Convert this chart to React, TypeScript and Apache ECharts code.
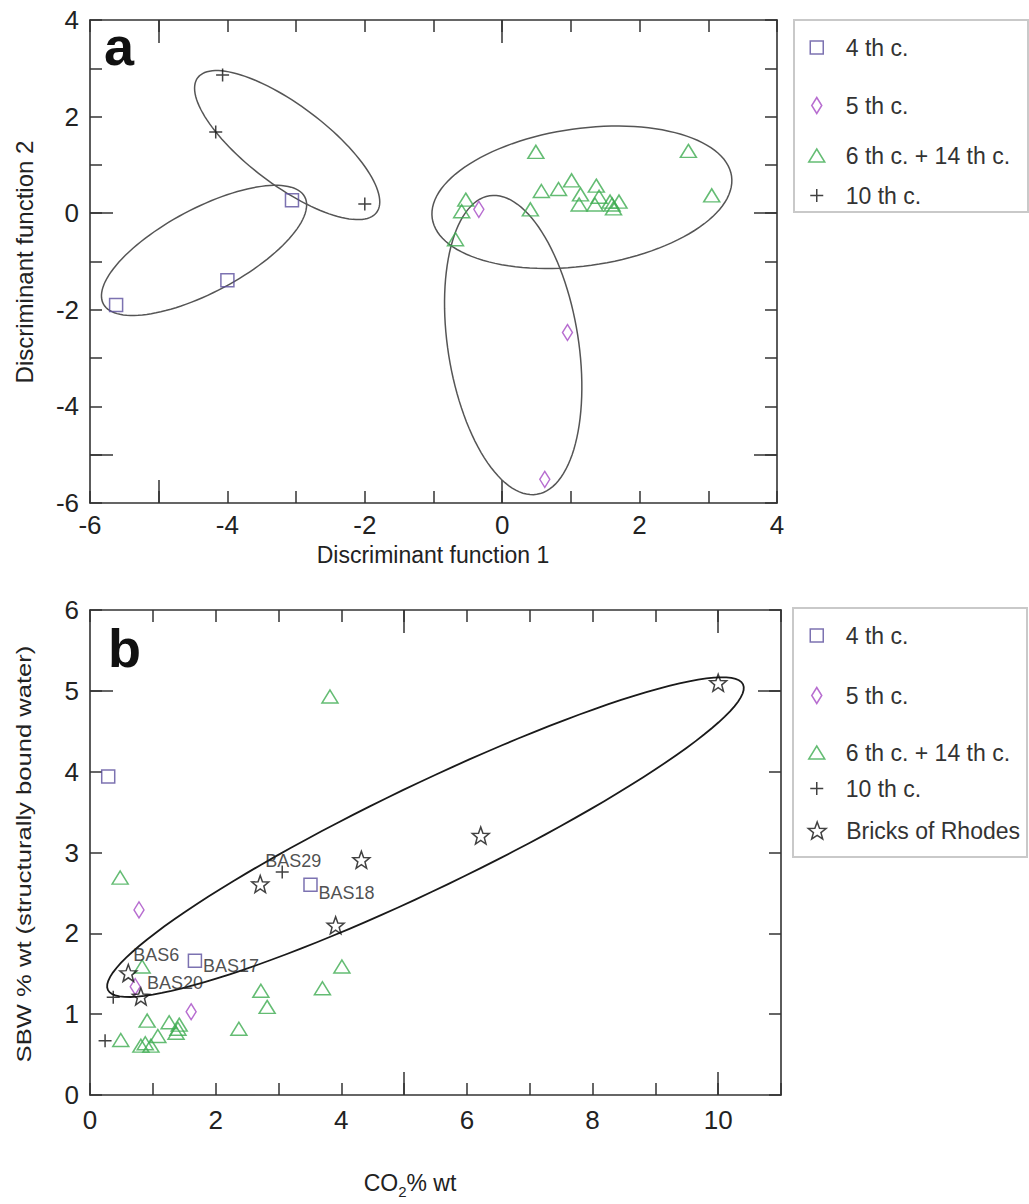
import React, { useEffect, useRef } from 'react';
import * as echarts from 'echarts';

const FONT = "'Liberation Sans', Arial, Helvetica, sans-serif";

// ---------------- Panel a data (Discriminant functions) ----------------
const aXLabelValues = [-6, -4, -2, 0, 2, 4];
const aYLabelValues = [-6, -4, -2, 0, 2, 4];
const aLongTicks = [-5, 0];

const a4thX = [-5.62, -4.0, -3.06];
const a4thY = [-1.9, -1.39, 0.27];
const a5thX = [-0.34, 0.95, 0.62];
const a5thY = [0.08, -2.47, -5.51];
const a6thX = [0.49, 2.71, 3.05, -0.53, -0.59, -0.68, 0.41, 0.57, 0.82, 1.01, 1.37, 1.14, 1.12, 1.35, 1.41, 1.6, 1.62, 1.7, 1.57];
const a6thY = [1.27, 1.29, 0.37, 0.28, 0.04, -0.54, 0.08, 0.46, 0.5, 0.68, 0.57, 0.39, 0.18, 0.18, 0.34, 0.18, 0.1, 0.24, 0.24];
const a10thX = [-4.07, -4.17, -2.0];
const a10thY = [2.86, 1.68, 0.19];
// ellipses: [centerX, centerY, semi-major, semi-minor (in x-axis units), angle deg on screen]
const aEllipses = [
  [-3.13, 1.41, 1.63, 0.58, 37],
  [-4.34, -0.77, 1.66, 0.61, -28],
  [1.16, 0.33, 2.2, 1.0, -8],
  [0.16, -2.73, 2.2, 0.95, 81],
];

// ---------------- Panel b data (CO2 vs SBW) ----------------
const bXLabelValues = [0, 2, 4, 6, 8, 10];
const bYLabelValues = [0, 1, 2, 3, 4, 5, 6];
const bXLongTicks = [5, 10];
const bYLongTicks = [5];

const b4thX = [0.29, 3.51, 1.67];
const b4thY = [3.94, 2.6, 1.66];
const b4thLabels = ['', 'BAS18', 'BAS17'];
const b5thX = [0.78, 0.72, 1.61];
const b5thY = [2.29, 1.34, 1.03];
const b6thX = [3.82, 0.48, 0.83, 4.01, 3.7, 2.72, 2.82, 2.37, 0.91, 1.26, 1.42, 1.37, 1.08, 0.49, 0.81, 0.97, 1.4, 0.88];
const b6thY = [4.93, 2.69, 1.59, 1.59, 1.32, 1.29, 1.09, 0.82, 0.92, 0.9, 0.87, 0.77, 0.73, 0.68, 0.61, 0.61, 0.82, 0.64];
const b10thX = [3.06, 0.37, 0.24];
const b10thY = [2.76, 1.21, 0.67];
const rhodesX = [2.71, 4.32, 3.91, 0.61, 0.81, 6.22, 10.0];
const rhodesY = [2.61, 2.91, 2.1, 1.51, 1.22, 3.21, 5.1];
const rhodesLabels = ['BAS29', '', '', 'BAS6', 'BAS20', '', ''];
const bEllipses = [[5.34, 3.19, 5.61, 0.83, -25.7]];

const seriesNames = ['4 th c.', '5 th c.', '6 th c. + 14 th c.', '10 th c.', 'Bricks of Rhodes'];

// ---------------- styles / layout ----------------
const SYM: Record<string, string> = {
  square: 'path://M0,0L10,0L10,10L0,10Z',
  diamond: 'path://M5,0L10,8L5,16L0,8Z',
  triangle: 'path://M8,0L16,13L0,13Z',
  plus: 'path://M0,6L12,6M6,0L6,12',
  star: 'path://M10,0L12.47,6.6L19.51,6.91L13.99,11.3L15.88,18.09L10,14.2L4.12,18.09L6.01,11.3L0.49,6.91L7.53,6.6Z',
};
const STYLE: Record<string, { symbol: string; size: number[]; color: string }> = {
  '4 th c.': { symbol: SYM.square, size: [13, 13], color: '#5b4f9d' },
  '5 th c.': { symbol: SYM.diamond, size: [10, 16], color: '#a548c4' },
  '6 th c. + 14 th c.': { symbol: SYM.triangle, size: [16, 13], color: '#3dab50' },
  '10 th c.': { symbol: SYM.plus, size: [13, 13], color: '#111111' },
  'Bricks of Rhodes': { symbol: SYM.star, size: [17, 17], color: '#111111' },
};
const labelOffsets: Record<string, number[]> = {
  BAS29: [5, -23],
  BAS18: [8, 8],
  BAS17: [8, 5],
  BAS6: [5, -18],
  BAS20: [6, -13],
};
const legendRowsA = [47, 105, 155, 195];
const legendRowsB = [635, 695, 752, 788, 830];
const legendIconCenterX = 816;

const axisColor = '#333333';

function makeAxes(dim: 'x' | 'y', gridIndex: number, min: number, max: number, labelValues: number[], longTicks: number[], labelMargin: number) {
  const first = dim === 'x' ? 'bottom' : 'left';
  const second = dim === 'x' ? 'top' : 'right';
  const base = { type: 'value', gridIndex, min, max, interval: 1, splitLine: { show: false } };
  const line = { show: true, onZero: false, lineStyle: { color: axisColor, width: 1.6 } };
  const shortTick = { show: true, inside: true, length: 12, lineStyle: { color: axisColor, width: 1.5 } };
  const longTick = { show: true, inside: true, length: 23, customValues: longTicks, lineStyle: { color: axisColor, width: 1.5 } };
  return [
    {
      ...base, position: first, axisLine: line, axisTick: shortTick,
      axisLabel: { show: true, customValues: labelValues, fontSize: 26, color: '#222', fontFamily: FONT, margin: labelMargin },
    },
    { ...base, position: second, axisLine: line, axisTick: shortTick, axisLabel: { show: false } },
    { ...base, position: first, axisLine: { show: false, onZero: false }, axisTick: longTick, axisLabel: { show: false } },
    { ...base, position: second, axisLine: { show: false, onZero: false }, axisTick: longTick, axisLabel: { show: false } },
  ];
}

function scatter(name: string, xs: number[], ys: number[], axisIndex: number, labels?: string[]) {
  const st = STYLE[name];
  return {
    type: 'scatter',
    name,
    xAxisIndex: axisIndex,
    yAxisIndex: axisIndex,
    symbol: st.symbol,
    symbolSize: st.size,
    itemStyle: { color: 'rgba(0,0,0,0)', borderColor: st.color, borderWidth: 1.5 },
    emphasis: { disabled: true },
    z: 3,
    data: xs.map((x, i) => {
      const lab = labels ? labels[i] : '';
      if (lab) {
        return {
          value: [x, ys[i]],
          label: {
            show: true,
            formatter: lab,
            position: 'inside',
            align: 'left',
            verticalAlign: 'middle',
            offset: labelOffsets[lab],
            color: '#222',
            fontSize: 18,
            fontFamily: FONT,
          },
        };
      }
      return [x, ys[i]];
    }),
  };
}

function ellipseSeries(name: string, data: number[][], axisIndex: number, stroke: string, width: number) {
  return {
    type: 'custom',
    name,
    xAxisIndex: axisIndex,
    yAxisIndex: axisIndex,
    silent: true,
    z: 2,
    encode: { x: 0, y: 1 },
    data,
    renderItem: (_params: any, api: any) => {
      const c = api.coord([api.value(0), api.value(1)]);
      const unit = api.size([1, 0])[0];
      const a = api.value(2) * unit;
      const b = api.value(3) * unit;
      const ang = (api.value(4) * Math.PI) / 180;
      const pts: number[][] = [];
      const n = 120;
      for (let i = 0; i < n; i++) {
        const t = (i / n) * Math.PI * 2;
        const u = a * Math.cos(t);
        const v = b * Math.sin(t);
        pts.push([c[0] + u * Math.cos(ang) - v * Math.sin(ang), c[1] + u * Math.sin(ang) + v * Math.cos(ang)]);
      }
      return { type: 'polygon', shape: { points: pts }, style: { fill: 'none', stroke, lineWidth: width } };
    },
  };
}

function legendItem(name: string, cy: number) {
  const st = STYLE[name];
  return {
    show: true,
    orient: 'vertical',
    data: [{ name, icon: st.symbol }],
    // the legend is laid out by its visible content, whose left edge is the icon's left edge
    left: legendIconCenterX - st.size[0] / 2,
    top: cy - 11,
    padding: 0,
    itemGap: 0,
    itemWidth: 48,
    itemHeight: st.size[1],
    selectedMode: false,
    itemStyle: { borderWidth: 1.5 },
    textStyle: { fontSize: 23, lineHeight: 22, color: '#333', fontFamily: FONT },
  };
}

export default function App() {
  const ref = useRef<HTMLDivElement>(null);
  useEffect(() => {
    if (!ref.current) return;
    const chart = echarts.init(ref.current, undefined, { renderer: 'svg' });
    const legends = [
      ...seriesNames.slice(0, 4).map((n, i) => legendItem(n, legendRowsA[i])),
      ...seriesNames.map((n, i) => legendItem(n, legendRowsB[i])),
    ];
    const option = {
      animation: false,
      backgroundColor: '#ffffff',
      textStyle: { fontFamily: FONT },
      grid: [
        { left: 90, top: 20, width: 687, height: 483 },
        { left: 90, top: 610, width: 691, height: 485 },
      ],
      xAxis: [
        ...makeAxes('x', 0, -6, 4, aXLabelValues, aLongTicks, 9),
        ...makeAxes('x', 1, 0, 11, bXLabelValues, bXLongTicks, 12),
      ],
      yAxis: [
        ...makeAxes('y', 0, -6, 4, aYLabelValues, aLongTicks, 11),
        ...makeAxes('y', 1, 0, 6, bYLabelValues, bYLongTicks, 11),
      ],
      legend: legends,
      series: [
        ellipseSeries('groups a', aEllipses, 0, '#555555', 1.5),
        scatter(seriesNames[0], a4thX, a4thY, 0),
        scatter(seriesNames[1], a5thX, a5thY, 0),
        scatter(seriesNames[2], a6thX, a6thY, 0),
        scatter(seriesNames[3], a10thX, a10thY, 0),
        ellipseSeries('group b', bEllipses, 4, '#1a1a1a', 1.8),
        scatter(seriesNames[0], b4thX, b4thY, 4, b4thLabels),
        scatter(seriesNames[1], b5thX, b5thY, 4),
        scatter(seriesNames[2], b6thX, b6thY, 4),
        scatter(seriesNames[3], b10thX, b10thY, 4),
        scatter(seriesNames[4], rhodesX, rhodesY, 4, rhodesLabels),
      ],
      graphic: [
        { type: 'rect', shape: { x: 794, y: 20, width: 234, height: 192 }, style: { fill: 'none', stroke: '#c9c9c9', lineWidth: 2 } },
        { type: 'rect', shape: { x: 793, y: 608, width: 234, height: 249 }, style: { fill: 'none', stroke: '#c9c9c9', lineWidth: 2 } },
        { type: 'text', x: 104, y: 46, style: { text: 'a', fontSize: 54, fontWeight: 'bold', fontFamily: FONT, fill: '#111', align: 'left', verticalAlign: 'middle' } },
        { type: 'text', x: 108, y: 648, style: { text: 'b', fontSize: 54, fontWeight: 'bold', fontFamily: FONT, fill: '#111', align: 'left', verticalAlign: 'middle' } },
        { type: 'text', x: 433, y: 555, style: { text: 'Discriminant function 1', fontSize: 23, fontFamily: FONT, fill: '#222', align: 'center', verticalAlign: 'middle' } },
        { type: 'text', x: 24, y: 262, rotation: Math.PI / 2, scaleX: 1.0, style: { text: 'Discriminant function 2', fontSize: 24, fontFamily: FONT, fill: '#222', align: 'center', verticalAlign: 'middle' } },
        {
          type: 'text', x: 410, y: 1183,
          style: {
            text: '{n|CO}{s|2}{n|% wt}', align: 'center', verticalAlign: 'middle', fill: '#222',
            rich: {
              n: { fontSize: 23, fontFamily: FONT, lineHeight: 32, fill: '#222' },
              s: { fontSize: 15, fontFamily: FONT, lineHeight: 15, verticalAlign: 'bottom', fill: '#222' },
            },
          },
        },
        { type: 'text', x: 24, y: 854, rotation: Math.PI / 2, scaleX: 1.28, style: { text: 'SBW % wt (structurally bound water)', fontSize: 20, fontFamily: FONT, fill: '#222', align: 'center', verticalAlign: 'middle' } },
      ],
    };
    chart.setOption(option as any);
    return () => chart.dispose();
  }, []);
  return <div ref={ref} style={{ position: 'fixed', left: 0, top: 0, width: 1029, height: 1204, background: '#fff' }} />;
}
